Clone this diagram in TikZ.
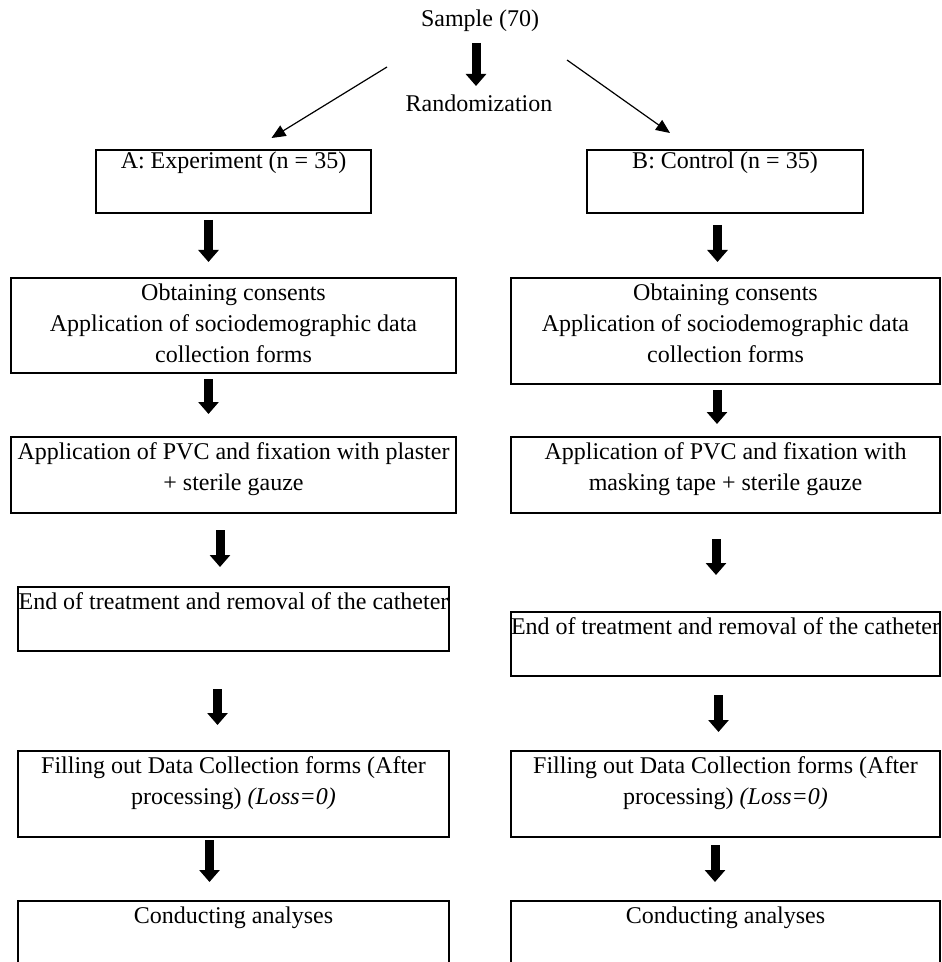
\documentclass[tikz,border=0pt]{standalone}
\usepackage{fontspec}
\setmainfont{Liberation Serif}
\usetikzlibrary{arrows.meta}

\begin{document}
\begin{tikzpicture}[x=0.5pt,y=-0.5pt,
  font=\fontsize{12}{15.5}\selectfont,
  box/.style={draw,line width=1pt,align=flush center,anchor=north,inner xsep=0pt,inner ysep=0pt,text height=11pt},
  bigarrow/.style={line width=4.5pt,-{Triangle[width=10pt,length=6pt]}},
  thinarrow/.style={line width=0.6pt,-{Triangle[width=6pt,length=7pt]}}]

\clip (0,0) rectangle (941,962);

\node[anchor=base] (sample) at (480,27) {Sample (70)};

\node[anchor=base] (rand) at (479,112) {Randomization};

% group A
\node[box,text width=137.5pt,text height=9.5pt,text depth=22pt] (A0) at (233.5,149) {A: Experiment (n = 35)};

\node[box,text width=222.5pt,text depth=36.5pt] (A1) at (233.5,277) {Obtaining consents\\Application of sociodemographic data\\collection forms};

\node[box,text width=222.5pt,text depth=27pt] (A2) at (233.5,436) {Application of PVC and fixation with plaster\\+ sterile gauze};

\node[box,text width=215.5pt,text depth=21pt] (A3) at (233.5,586) {End of treatment and removal of the catheter};

\node[box,text width=215.5pt,text depth=32pt] (A4) at (233.5,750) {Filling out Data Collection forms (After\\processing) \textit{(Loss=0)}};

\node[box,text width=215.5pt,text depth=40pt] (A5) at (233.5,900) {Conducting analyses};

% group B
\node[box,text width=138pt,text height=9.5pt,text depth=22pt] (B0) at (725,149) {B: Control (n = 35)};

\node[box,text width=214.5pt,text depth=42pt] (B1) at (725.5,277) {Obtaining consents\\Application of sociodemographic data\\collection forms};

\node[box,text width=214.5pt,text depth=27pt] (B2) at (725.5,436) {Application of PVC and fixation with\\masking tape + sterile gauze};

\node[box,text width=214.5pt,text depth=21pt] (B3) at (725.5,611) {End of treatment and removal of the catheter};

\node[box,text width=214.5pt,text depth=32pt] (B4) at (725.5,750) {Filling out Data Collection forms (After\\processing) \textit{(Loss=0)}};

\node[box,text width=214.5pt,text depth=40pt] (B5) at (725.5,900) {Conducting analyses};

% randomization split
\draw ([shift={(-93,40)}]sample.base) edge[thinarrow] ([shift={(38,-11)}]A0.north)
      ([shift={(87,33)}]sample.base) edge[thinarrow] ([shift={(-55,-16)}]B0.north);

\draw

  % From sample to randomization
  ([shift={(-4,16)}]sample.base) edge[bigarrow] ([shift={(-3,-26)}]rand.base)

  % From A0 down to A5
  ([shift={(-25,6)}]A0.south) edge[bigarrow] ([shift={(-25,-15)}]A1.north)
  ([shift={(-25,5)}]A1.south) edge[bigarrow] ([shift={(-25,-22)}]A2.north)
  ([shift={(-13.5,16)}]A2.south) edge[bigarrow] ([shift={(-13.5,-19)}]A3.north)
  ([shift={(-16,37)}]A3.south) edge[bigarrow] ([shift={(-16,-25)}]A4.north)
  ([shift={(-24,2)}]A4.south) edge[bigarrow] ([shift={(-24,-18)}]A5.north)

  % From B0 down to B5
  ([shift={(-7.5,11)}]B0.south) edge[bigarrow] ([shift={(-8,-15)}]B1.north)
  ([shift={(-8.5,5)}]B1.south) edge[bigarrow] ([shift={(-8.5,-12)}]B2.north)
  ([shift={(-9.5,25)}]B2.south) edge[bigarrow] ([shift={(-9.5,-36)}]B3.north)
  ([shift={(-7,18)}]B3.south) edge[bigarrow] ([shift={(-7,-18)}]B4.north)
  ([shift={(-10.5,7)}]B4.south) edge[bigarrow] ([shift={(-10.5,-18)}]B5.north)

;

\end{tikzpicture}
\end{document}
